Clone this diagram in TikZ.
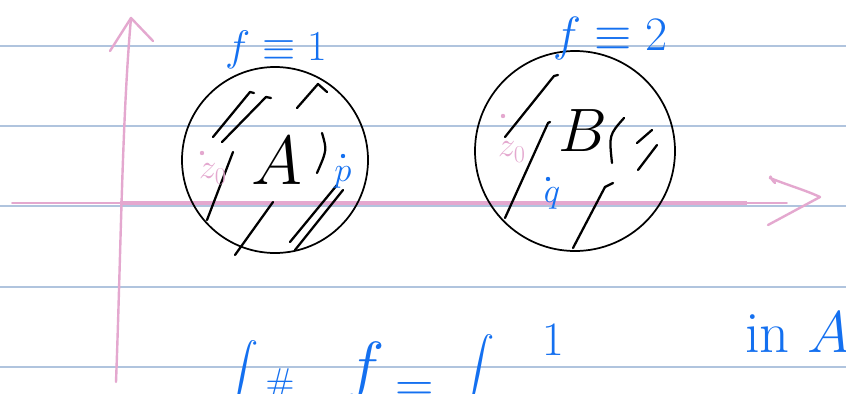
\RequirePackage{fix-cm}
\documentclass[tikz,border=0pt]{standalone}
\usepackage{amsmath}
\definecolor{rule}{RGB}{176,196,222}
\definecolor{pinkax}{RGB}{228,168,207}
\definecolor{inkblue}{RGB}{20,112,240}
\begin{document}
\begin{tikzpicture}[x=0.75pt,y=-0.75pt,
  ruled/.style={draw=rule,line width=1pt},
  axis/.style={draw=pinkax,line width=1.8pt,line cap=round,line join=round},
  ink/.style={draw=black,line width=1.7pt,line cap=round,line join=round},
  disc/.style={draw=black,line width=1.3pt},
  bluetxt/.style={text=inkblue,inner sep=0pt},
  pinktxt/.style={text=pinkax,inner sep=0pt},
  blacktxt/.style={text=black,inner sep=0pt}]
\useasboundingbox[fill=white] (0,0) rectangle (846,393);
% ruled lines
\foreach \yy in {46,126,206,287,367} \draw[ruled] (0,\yy) -- (846,\yy);
% axes
\coordinate (yb) at (116,382);
\coordinate (yt) at (131,18);
\draw[axis] (yb) .. controls (121,250) and (122,120) .. (yt);
\coordinate (yl) at (110,51);
\coordinate (yr) at (153,41);
\draw[axis] (yl) -- (yt) -- (yr);
\coordinate (xl) at (12,203);
\coordinate (xo) at (120,203);
\coordinate (xm) at (747,203);
\coordinate (xe) at (787,203);
\draw[axis,line width=1.3pt] (xl) -- (xo);
\draw[axis,line width=3.4pt,line cap=butt] (xo) -- (xm);
\draw[axis,line width=1.3pt] (xm) -- (xe);
\coordinate (h1) at (770,178);
\coordinate (h2) at (820,197);
\coordinate (h3) at (768,225);
\draw[axis] (775,183) .. controls (768,176) and (772,175) .. (h1) .. controls (790,186) and (805,190) .. (h2) -- (h3);
% circles
\node[disc,circle,minimum size=139.5pt,inner sep=0pt] (A) at (275,160) {};
\node[disc,circle,minimum size=150pt,inner sep=0pt] (B) at (575,151) {};
% labels above
\node[bluetxt,font=\fontsize{32}{34}\selectfont] (fA) at (276,50) {$f\equiv 1$};
\node[bluetxt,font=\fontsize{36}{38}\selectfont] (fB) at (610,38) {$f\equiv 2$};
% circle A contents
\node[blacktxt,font=\fontsize{52}{54}\selectfont] (la) at (277,161) {$A$};
\draw[ink] (213,137) -- (250,92) -- (254,93);
\draw[ink] (222,142) -- (266,97) -- (271,98);
\draw[ink] (297,108) -- (318,84) -- (327,92);
\draw[ink] (322,133) .. controls (327,150) .. (317,173);
\draw[ink] (207,220) -- (233,152);
\draw[ink] (235,255) -- (273,202);
\draw[ink] (290,242) -- (337,185);
\draw[ink] (295,250) -- (343,190);
\fill[pinkax] (202,153) circle (2.2);
\node[pinktxt,font=\fontsize{26}{28}\selectfont] (zA) at (213,174) {$z_0$};
\fill[inkblue] (343,156) circle (2.2);
\node[bluetxt,font=\fontsize{26}{28}\selectfont] (pA) at (343,177) {$p$};
% circle B contents
\node[blacktxt,font=\fontsize{46}{48}\selectfont] (lb) at (583,131) {$B$};
\draw[ink] (505,137) -- (554,76) -- (558,75);
\draw[ink] (505,218) -- (548,123) -- (550,122);
\draw[ink] (624,118) .. controls (609,135) .. (612,163);
\draw[ink] (637,143) -- (652,130);
\draw[ink] (638,170) -- (657,145);
\draw[ink] (573,248) -- (605,187) -- (613,183);
\fill[pinkax] (503,116) circle (2.2);
\node[pinktxt,font=\fontsize{26}{28}\selectfont] (zB) at (512,152) {$z_0$};
\fill[inkblue] (548,179) circle (2.2);
\node[bluetxt,font=\fontsize{26}{28}\selectfont] (qB) at (552,198) {$q$};
% bottom formula (partly cut off, as in the reference)
\node[bluetxt,font=\fontsize{34}{36}\selectfont,anchor=north] (i1) at (242,340) {$\displaystyle\int$};
\node[bluetxt,font=\fontsize{28}{30}\selectfont] (t1) at (280,385) {$\#$};
\node[bluetxt,font=\fontsize{50}{52}\selectfont] (f1) at (365,372) {$f$};
\node[bluetxt,font=\fontsize{40}{42}\selectfont] (eq) at (415,392) {$=$};
\node[bluetxt,font=\fontsize{40}{42}\selectfont,anchor=north] (i2) at (478,334) {$\displaystyle\int$};
\node[bluetxt,font=\fontsize{36}{38}\selectfont] (one) at (553,340) {$1$};
\node[bluetxt,font=\fontsize{44}{46}\selectfont,anchor=base west] (inA) at (745,352) {in $A$};
\end{tikzpicture}
\end{document}
